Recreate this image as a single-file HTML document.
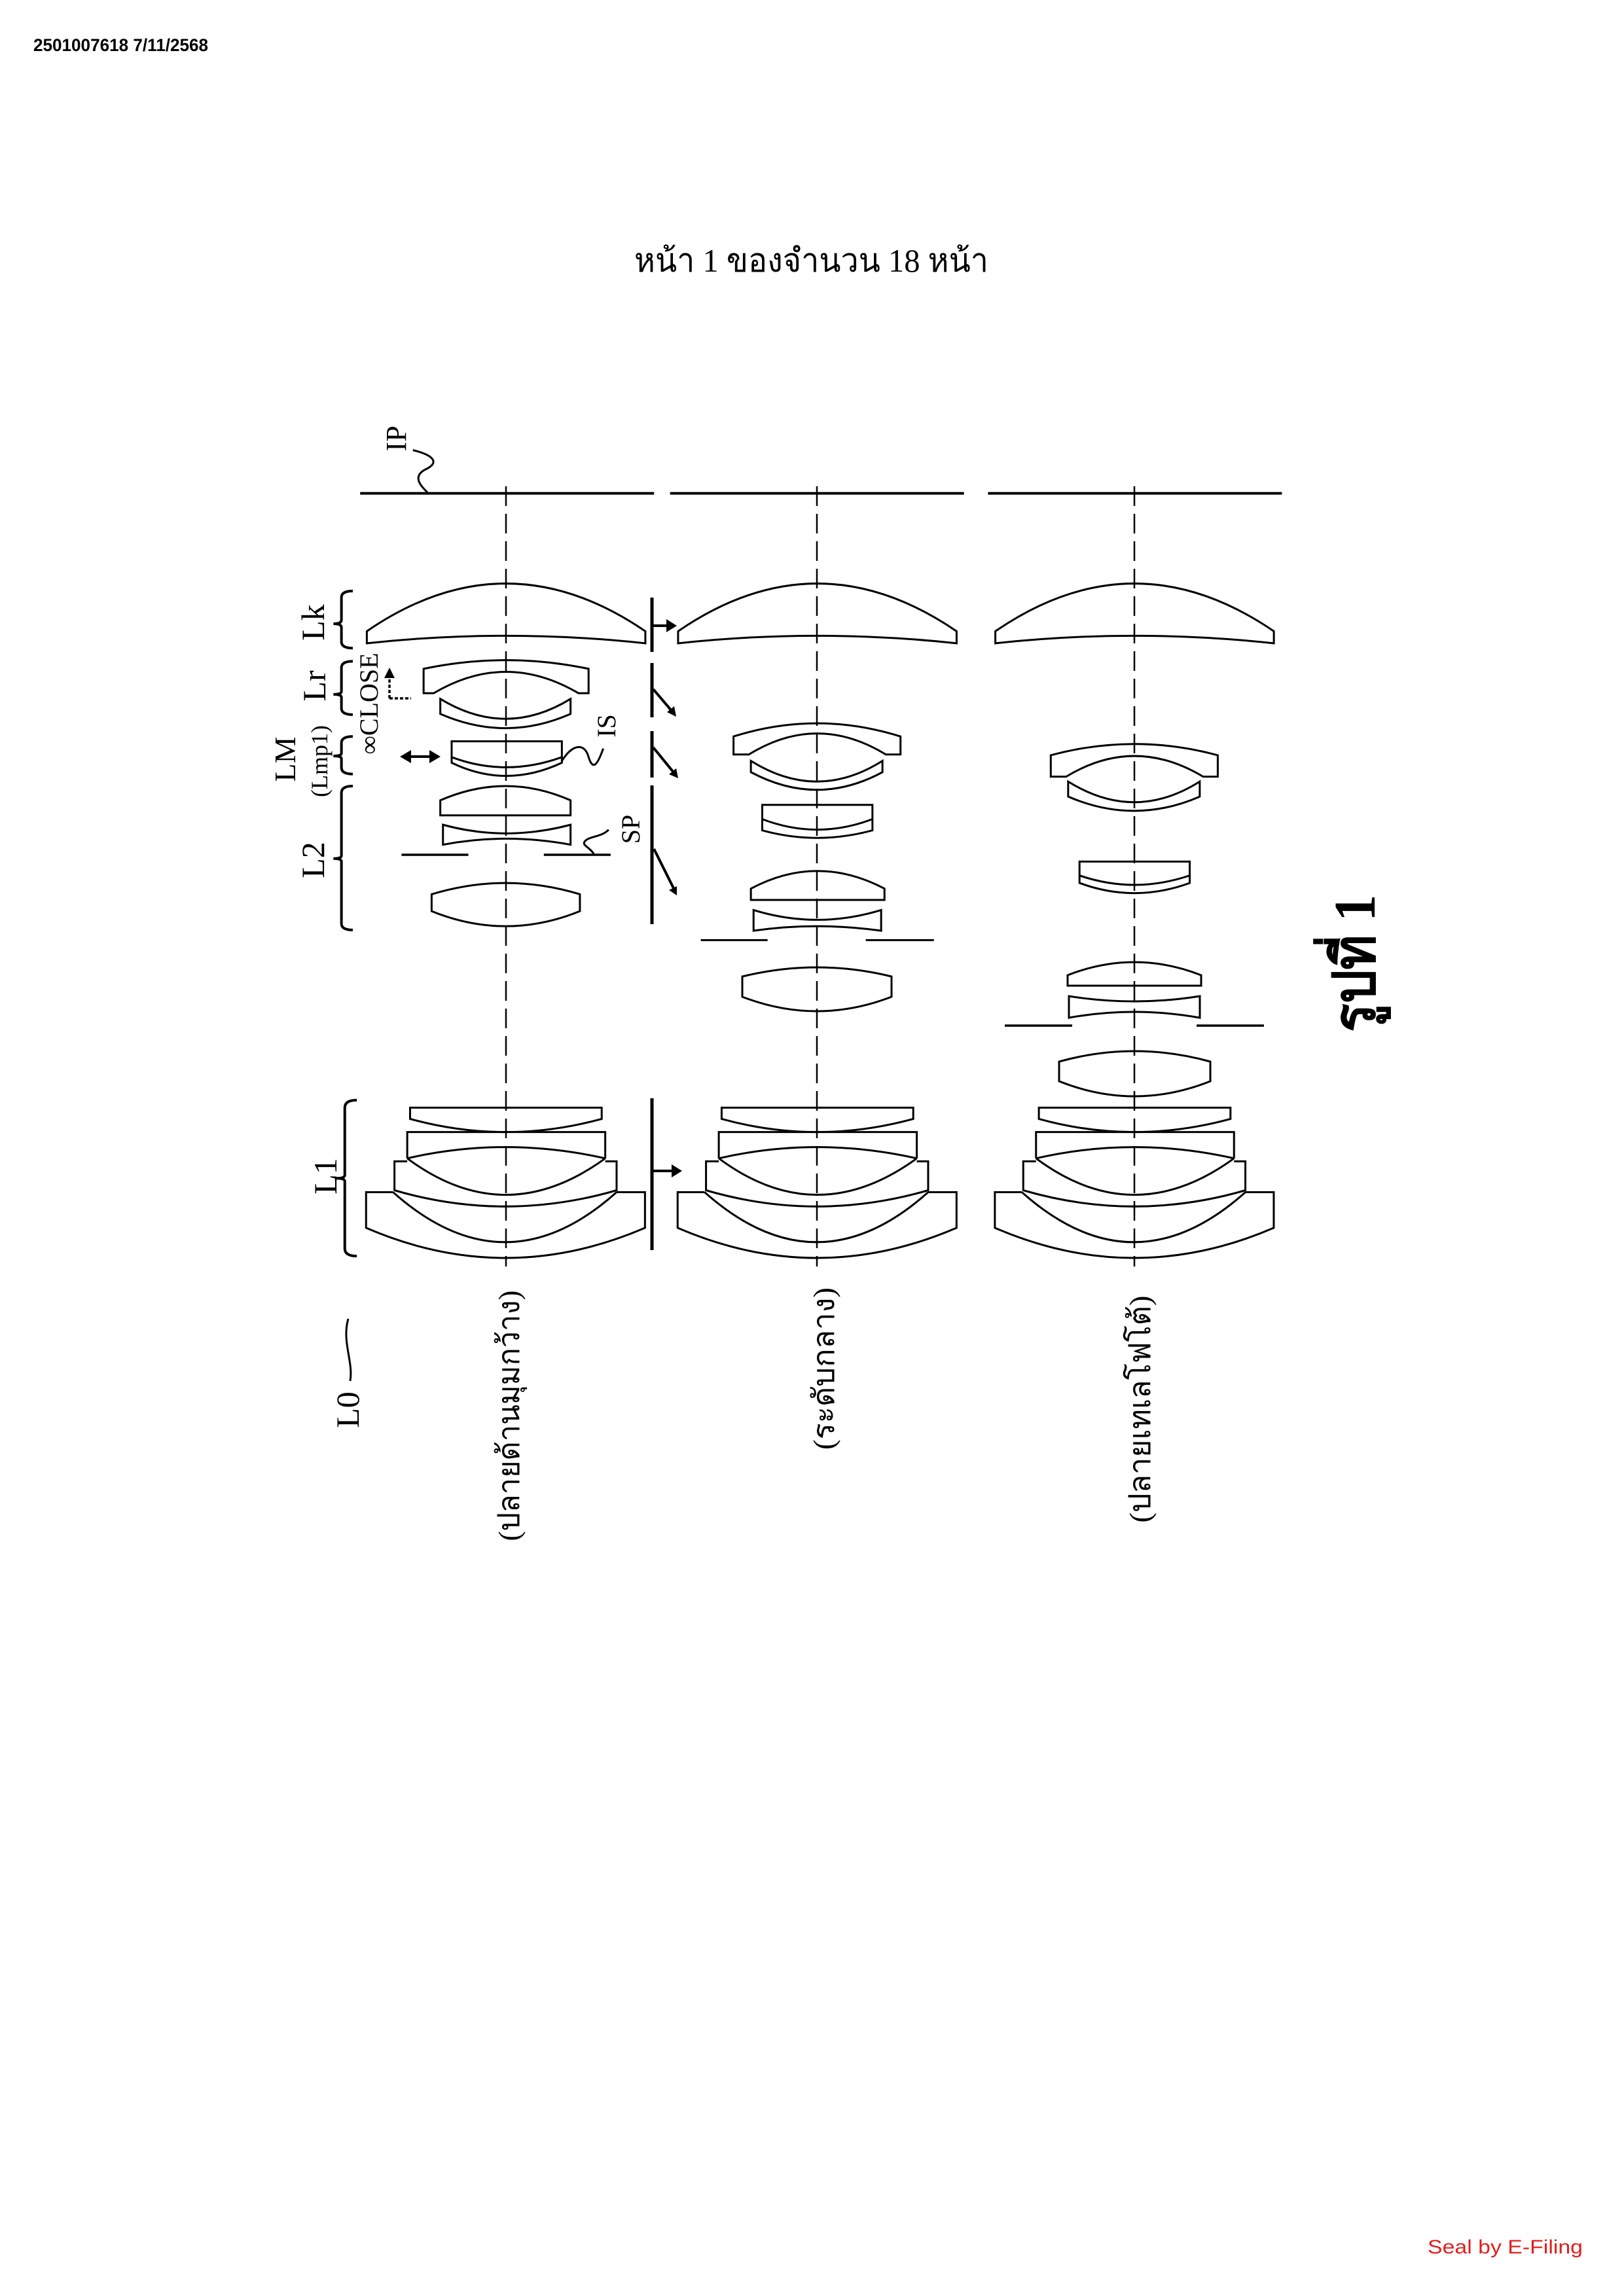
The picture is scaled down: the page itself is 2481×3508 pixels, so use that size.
<!DOCTYPE html>
<html><head><meta charset="utf-8"><style>html,body{margin:0;padding:0;background:#fff}svg{display:block}</style></head>
<body>
<svg width="2481" height="3508" viewBox="0 0 2481 3508" xmlns="http://www.w3.org/2000/svg">
<rect width="2481" height="3508" fill="#fff"/>
<text x="51" y="78" font-family="Liberation Sans, sans-serif" font-weight="bold" font-size="27" textLength="267" lengthAdjust="spacingAndGlyphs">2501007618 7/11/2568</text>
<text x="969" y="415" font-family="Liberation Serif, serif" font-size="50" textLength="541" lengthAdjust="spacingAndGlyphs">หน้า  1  ของจำนวน  18  หน้า</text>
<text x="2181" y="3443" font-family="Liberation Sans, sans-serif" font-size="30" fill="#e0201c" textLength="237" lengthAdjust="spacingAndGlyphs">Seal by E-Filing</text>

<g stroke="#000" stroke-width="2.5" stroke-dasharray="30 12" fill="none">
<line x1="773" y1="743" x2="773" y2="1935"/>
<line x1="1248" y1="743" x2="1248" y2="1935"/>
<line x1="1733" y1="743" x2="1733" y2="1935"/>
</g>

<g transform="translate(440,620) scale(1.0204,0.5741)" fill="none" stroke="#000">
<g stroke-width="4">
<line x1="108" y1="233" x2="548" y2="233" vector-effect="non-scaling-stroke" stroke-width="4"/>
<line x1="572" y1="233" x2="1012" y2="233" vector-effect="non-scaling-stroke" stroke-width="4"/>
<line x1="1048" y1="233" x2="1488" y2="233" vector-effect="non-scaling-stroke" stroke-width="4"/>
<path d="M187,118 C215,130 230,150 205,170 C185,190 200,215 210,233" vector-effect="non-scaling-stroke" stroke-width="3"/>
<path d="M97,493 Q80,493 80,510 L80,570 Q80,580 68,580 Q80,580 80,590 L80,628 Q80,645 97,645" vector-effect="non-scaling-stroke" stroke-width="4"/>
<path d="M97,680 Q80,680 80,697 L80,760 Q80,768 68,768 Q80,768 80,776 L80,805 Q80,822 97,822" vector-effect="non-scaling-stroke" stroke-width="4"/>
<path d="M97,880 Q80,880 80,897 L80,925 Q80,932 68,932 Q80,932 80,939 L80,963 Q80,980 97,980" vector-effect="non-scaling-stroke" stroke-width="4"/>
<path d="M97,1012 Q80,1012 80,1030 L80,1197 Q80,1205 68,1205 Q80,1205 80,1213 L80,1378 Q80,1395 97,1395" vector-effect="non-scaling-stroke" stroke-width="4"/>
<line x1="170" y1="1195" x2="270" y2="1195" vector-effect="non-scaling-stroke" stroke-width="3.5"/>
<line x1="383" y1="1195" x2="483" y2="1195" vector-effect="non-scaling-stroke" stroke-width="3.5"/>
<line x1="618" y1="1422" x2="718" y2="1422" vector-effect="non-scaling-stroke" stroke-width="3"/>
<line x1="865" y1="1422" x2="967" y2="1422" vector-effect="non-scaling-stroke" stroke-width="3"/>
</g>
<g stroke-width="3">
<path d="M118,632 L118,600 Q326,346 535,600 L535,632 Q326,592 118,632 Z" vector-effect="non-scaling-stroke"/>
<path d="M584,632 L584,600 Q792,346 1001,600 L1001,632 Q792,592 584,632 Z" vector-effect="non-scaling-stroke"/>
<path d="M1059,632 L1059,600 Q1267,346 1476,600 L1476,632 Q1267,592 1059,632 Z" vector-effect="non-scaling-stroke"/>
<path d="M203,765 L203,700 Q326,654 450,700 L450,765 L435,765 Q326,651 218,765 Z" vector-effect="non-scaling-stroke"/>
<path d="M228,780 Q326,886 423,780 L423,820 Q326,896 228,820 Z" vector-effect="non-scaling-stroke"/>
<path d="M245,893 L410,893 L410,950 Q326,1020 245,950 Z" vector-effect="non-scaling-stroke"/>
<path d="M245,935 Q326,989 410,935" vector-effect="non-scaling-stroke"/>
<path d="M228,1090 L228,1050 Q326,974 423,1050 L423,1090 Z" vector-effect="non-scaling-stroke"/>
<path d="M232,1115 Q326,1161 423,1115 L423,1168 Q326,1136 232,1168 Z" vector-effect="non-scaling-stroke"/>
<path d="M215,1345 L215,1300 Q326,1240 437,1300 L437,1345 Q326,1425 215,1345 Z" vector-effect="non-scaling-stroke"/>
<path d="M410,945 C428,895 445,900 450,935 C456,968 462,962 472,912" vector-effect="non-scaling-stroke" stroke-width="3"/>
<path d="M458,1193 C452,1175 440,1170 444,1160 C450,1145 470,1148 480,1128" vector-effect="non-scaling-stroke" stroke-width="3"/>
<path d="M667,928 L667,880 Q792,810 917,880 L917,928 L895,928 Q792,816 690,928 Z" vector-effect="non-scaling-stroke"/>
<path d="M693,945 Q792,1055 890,945 L890,975 Q792,1069 693,975 Z" vector-effect="non-scaling-stroke"/>
<path d="M710,1062 L875,1062 L875,1130 Q792,1170 710,1130 Z" vector-effect="non-scaling-stroke"/>
<path d="M710,1100 Q792,1156 875,1100" vector-effect="non-scaling-stroke"/>
<path d="M693,1315 L693,1285 Q792,1191 893,1285 L893,1315 Z" vector-effect="non-scaling-stroke"/>
<path d="M697,1342 Q792,1394 888,1342 L888,1397 Q792,1373 697,1397 Z" vector-effect="non-scaling-stroke"/>
<path d="M1142,987 L1142,930 Q1267,870 1392,930 L1392,987 L1370,987 Q1267,877 1165,987 Z" vector-effect="non-scaling-stroke"/>
<path d="M1168,1000 Q1267,1110 1365,1000 L1365,1040 Q1267,1116 1168,1040 Z" vector-effect="non-scaling-stroke"/>
<path d="M1185,1213 L1350,1213 L1350,1270 Q1267,1324 1185,1270 Z" vector-effect="non-scaling-stroke"/>
<path d="M1185,1250 Q1267,1300 1350,1250" vector-effect="non-scaling-stroke"/>
</g>
</g>

<g fill="none" stroke="#000" stroke-width="3">
<path d="M1134,1523 L1134,1492 Q1248,1464 1362,1492 L1362,1523 Q1248,1567 1134,1523 Z"/>
<path d="M1631,1506 L1631,1490 Q1733,1450 1835,1490 L1835,1506 Z"/>
<path d="M1633,1522 Q1733,1538 1833,1522 L1833,1555 Q1733,1537 1633,1555 Z"/>
<path d="M1618,1652 L1618,1622 Q1733,1590 1849,1622 L1849,1652 Q1733,1698 1618,1652 Z"/>
<line x1="1535" y1="1567" x2="1638" y2="1567" stroke-width="3.5"/>
<line x1="1828" y1="1567" x2="1931" y2="1567" stroke-width="3.5"/>
</g>

<g transform="translate(440,1500) scale(1.0842,0.5741)" fill="none" stroke="#000">
<path d="M97,315 Q80,315 80,335 L80,515 Q80,523 68,523 Q80,523 80,531 L80,710 Q80,730 97,730" vector-effect="non-scaling-stroke" stroke-width="4"/>
<g id="l1" stroke-width="3">
<path d="M172,335 L442,335 L442,365 Q306,435 172,365 Z" vector-effect="non-scaling-stroke"/>
<path d="M168,470 L168,400 L447,400 L447,470" vector-effect="non-scaling-stroke"/>
<path d="M168,470 Q306,410 447,470" vector-effect="non-scaling-stroke"/>
<path d="M168,470 Q306,664 447,470" vector-effect="non-scaling-stroke"/>
<path d="M168,478 L150,478 L150,555 Q306,641 463,555 L463,478 L447,478" vector-effect="non-scaling-stroke"/>
<path d="M148,560 L110,560 L110,655 Q306,815 503,655 L503,560 L463,560" vector-effect="non-scaling-stroke"/>
<path d="M148,560 Q306,826 463,560" vector-effect="non-scaling-stroke"/>
</g>
<use href="#l1" transform="translate(439,0)"/>
<use href="#l1" transform="translate(886,0)"/>
</g>

<g stroke="#000" stroke-width="5" fill="none">
<line x1="996" y1="913" x2="996" y2="996"/>
<line x1="996" y1="1013" x2="996" y2="1096"/>
<line x1="996" y1="1117" x2="996" y2="1188"/>
<line x1="996" y1="1200" x2="996" y2="1412"/>
<line x1="996" y1="1678" x2="996" y2="1910"/>
<g stroke-width="4">
<line x1="996" y1="956" x2="1022" y2="956"/>
<line x1="996" y1="1789" x2="1030" y2="1789"/>
<line x1="998" y1="1053" x2="1026" y2="1086"/>
<line x1="998" y1="1142" x2="1029" y2="1180"/>
<line x1="999" y1="1297" x2="1029" y2="1357"/>
<line x1="624" y1="1156" x2="660" y2="1156"/>
</g>
<line x1="595" y1="1067" x2="595" y2="1032" stroke-width="3.5" stroke-dasharray="5 3"/>
<line x1="595" y1="1067" x2="628" y2="1067" stroke-width="3.5" stroke-dasharray="5 3"/>
</g>
<g fill="#000">
<polygon points="1034,956 1018,946 1018,966"/>
<polygon points="1042,1789 1026,1779 1026,1799"/>
<polygon points="1033,1095 1019,1088 1030,1079"/>
<polygon points="1036,1189 1022,1183 1033,1174"/>
<polygon points="1034,1368 1022,1360 1034,1354"/>
<polygon points="611,1156 628,1146 628,1166"/>
<polygon points="673,1156 656,1146 656,1166"/>
<polygon points="595,1020 587,1036 603,1036"/>
</g>
<path d="M532,2015 C522,2050 540,2080 535,2110" fill="none" stroke="#000" stroke-width="3"/>

<g font-family="Liberation Serif, serif" fill="#000" text-anchor="middle">
<text transform="translate(620,670) rotate(-90)" font-size="44">IP</text>
<text transform="translate(495,951) rotate(-90)" font-size="50">Lk</text>
<text transform="translate(497,1048) rotate(-90)" font-size="50">Lr</text>
<text transform="translate(451,1160) rotate(-90)" font-size="46">LM</text>
<text transform="translate(500,1163) rotate(-90)" font-size="36">(Lmp1)</text>
<text transform="translate(577,1075) rotate(-90)" font-size="40">∞CLOSE</text>
<text transform="translate(940,1109) rotate(-90)" font-size="40">IS</text>
<text transform="translate(977,1267) rotate(-90)" font-size="40">SP</text>
<text transform="translate(495,1314) rotate(-90)" font-size="50">L2</text>
<text transform="translate(514,1797) rotate(-90)" font-size="50">L1</text>
<text transform="translate(548,2154) rotate(-90)" font-size="50">L0</text>
<text transform="translate(793,2163) rotate(-90)" font-size="46" textLength="383" lengthAdjust="spacingAndGlyphs">(ปลายด้านมุมกว้าง)</text>
<text transform="translate(1274,2091) rotate(-90)" font-size="46" textLength="248" lengthAdjust="spacingAndGlyphs">(ระดับกลาง)</text>
<text transform="translate(1757,2153) rotate(-90)" font-size="46" textLength="347" lengthAdjust="spacingAndGlyphs">(ปลายเทเลโฟโต้)</text>
<text transform="translate(2100,1472) rotate(-90)" font-size="90" font-weight="bold" textLength="210" lengthAdjust="spacingAndGlyphs">รูปที่ 1</text>
</g>
</svg>
</body></html>
